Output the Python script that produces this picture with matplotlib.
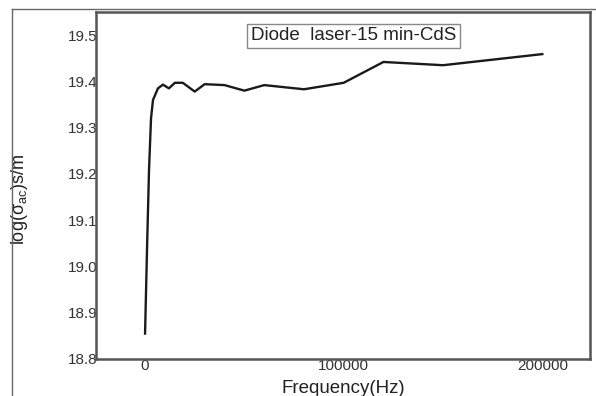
import matplotlib
matplotlib.use('Agg')
from matplotlib import pyplot as plt
from matplotlib.lines import Line2D

# frequency (Hz) and log(sigma_ac)
freq = [0, 1000, 2000, 3000, 4000, 6500, 9000, 12000, 15000, 19000, 25000,
        30000, 40000, 50000, 60000, 80000, 100000, 120000, 150000, 200000]
log_sigma = [18.855, 19.04, 19.21, 19.32, 19.36, 19.385, 19.393, 19.385, 19.397, 19.397, 19.378,
             19.394, 19.392, 19.38, 19.392, 19.383, 19.397, 19.442, 19.435, 19.459]

x_ticks = [0, 100000, 200000]
y_ticks = [18.8, 18.9, 19.0, 19.1, 19.2, 19.3, 19.4, 19.5]

plt.rcParams['font.family'] = ['Liberation Sans', 'DejaVu Sans']
plt.rcParams['mathtext.fontset'] = 'custom'
plt.rcParams['mathtext.rm'] = 'Liberation Sans'
plt.rcParams['mathtext.it'] = 'Liberation Sans'

fig = plt.figure(figsize=(5.96, 3.96), dpi=100)
ax = fig.add_axes([96 / 596, 37 / 396, 494 / 596, 347 / 396])

ax.plot(freq, log_sigma, color='#1a1a1a', linewidth=1.7)

ax.set_xlim(-24700, 224000)
ax.set_ylim(18.8, 19.55)
ax.set_xticks(x_ticks)
ax.set_xticklabels([str(t) for t in x_ticks])
ax.set_yticks(y_ticks)
ax.set_yticklabels([f'{t:.1f}' for t in y_ticks])
ax.tick_params(axis='both', length=0, labelsize=11, colors='#333333')
ax.tick_params(axis='y', pad=-1)
ax.tick_params(axis='x', pad=0)

for s in ax.spines.values():
    s.set_color('#555555')
    s.set_linewidth(1.8)

ax.set_xlabel('Frequency(Hz)', fontsize=13.5, color='#222222')
ax.xaxis.set_label_coords(0.5, -0.06)
ax.set_ylabel('log(σ$_{ac}$)s/m', fontsize=13, color='#222222')
ax.yaxis.set_label_coords(-0.134, 0.46)

ax.text(0.522, 0.931, 'Diode  laser-15 min-CdS', transform=ax.transAxes,
        ha='center', va='center', fontsize=13.5, color='#222222',
        bbox=dict(boxstyle='square,pad=0.2', facecolor='white', edgecolor='#888888', linewidth=1))

# outer frame of the original figure (only left and top edges visible)
fig.add_artist(Line2D([12 / 596, 12 / 596], [0, 1 - 9 / 396], transform=fig.transFigure,
                      color='#666666', linewidth=1))
fig.add_artist(Line2D([12 / 596, 1], [1 - 9 / 396, 1 - 9 / 396], transform=fig.transFigure,
                      color='#666666', linewidth=1))

plt.savefig('out.png', dpi=100)
